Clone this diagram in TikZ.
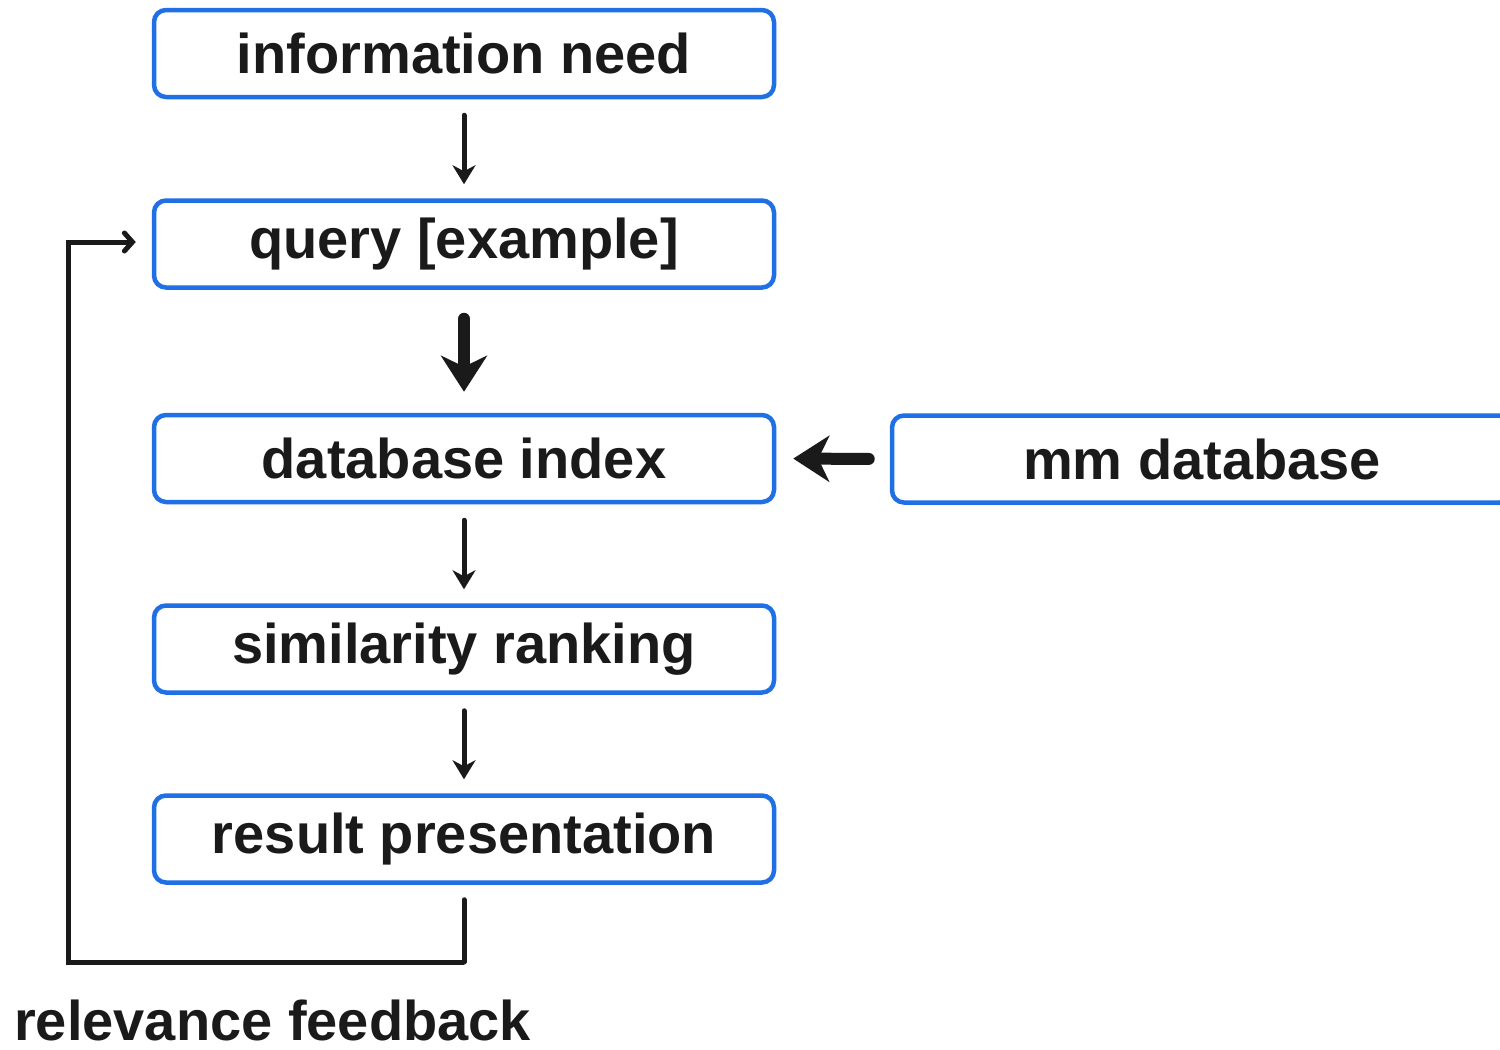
\documentclass[tikz,border=0pt]{standalone}
\usepackage{fontspec}
\setmainfont{Liberation Sans}
\usetikzlibrary{arrows.meta}
\definecolor{boxblue}{HTML}{1F6FE5}
\definecolor{ink}{HTML}{1A1A1A}
\begin{document}
\begin{tikzpicture}[x=1pt,y=-1pt,
  box/.style={draw=boxblue,line width=4.5pt,rounded corners=12pt,fill=white,
    minimum width=620pt,minimum height=87pt,inner sep=0pt,text=ink,
    font=\fontsize{56}{60}\selectfont\bfseries},
  thinarrow/.style={draw=ink,line width=5pt,line cap=round,-{Stealth[length=19pt,width=23pt,inset=6pt]}},
  thickarrow/.style={draw=ink,line width=12pt,line cap=round,-{Stealth[length=36pt,width=46pt,inset=11pt]}},
  fb/.style={draw=ink,line width=5pt}]
\useasboundingbox (0,0) rectangle (1500,1050);
\node[box] (need) at (464,53.5) {information need};
\node[box] (query) at (464,244) {query [example]};
\node[box] (dbidx) at (464,458.5) {database index};
\node[box] (sim) at (464,649) {similarity ranking};
\node[box] (res) at (464,839) {result presentation};
\node[box] (mm) at (1202,459) {mm database};
\draw[thinarrow,shorten <=16pt,shorten >=14pt] (need.south) -- (query.north);
\draw[thickarrow,shorten <=29pt,shorten >=21pt] (query.south) -- (dbidx.north);
\draw[thickarrow,shorten <=21pt,shorten >=17pt] (mm.west) -- (dbidx.east);
\draw[thinarrow,shorten <=16pt,shorten >=14pt] (dbidx.south) -- (sim.north);
\draw[thinarrow,shorten <=16pt,shorten >=14pt] (sim.south) -- (res.north);
\coordinate (c1) at (464,962);
\coordinate (c2) at (68,962);
\coordinate (c3) at (68,242);
\draw[fb,line cap=round,shorten <=15pt] (res.south) -- (c1);
\draw[fb,line join=miter] (c1) -- (c2) -- (c3) -- ++(4,0);
\draw[draw=ink,line width=5pt,-{Straight Barb[length=8pt,width=18pt,line cap=round]},shorten >=16pt] (c3) -- (query.west|-c3);
\node[anchor=base west,inner sep=0pt,text=ink,font=\fontsize{56}{60}\selectfont\bfseries] (lbl) at (14,1040) {relevance feedback};
\end{tikzpicture}
\end{document}
